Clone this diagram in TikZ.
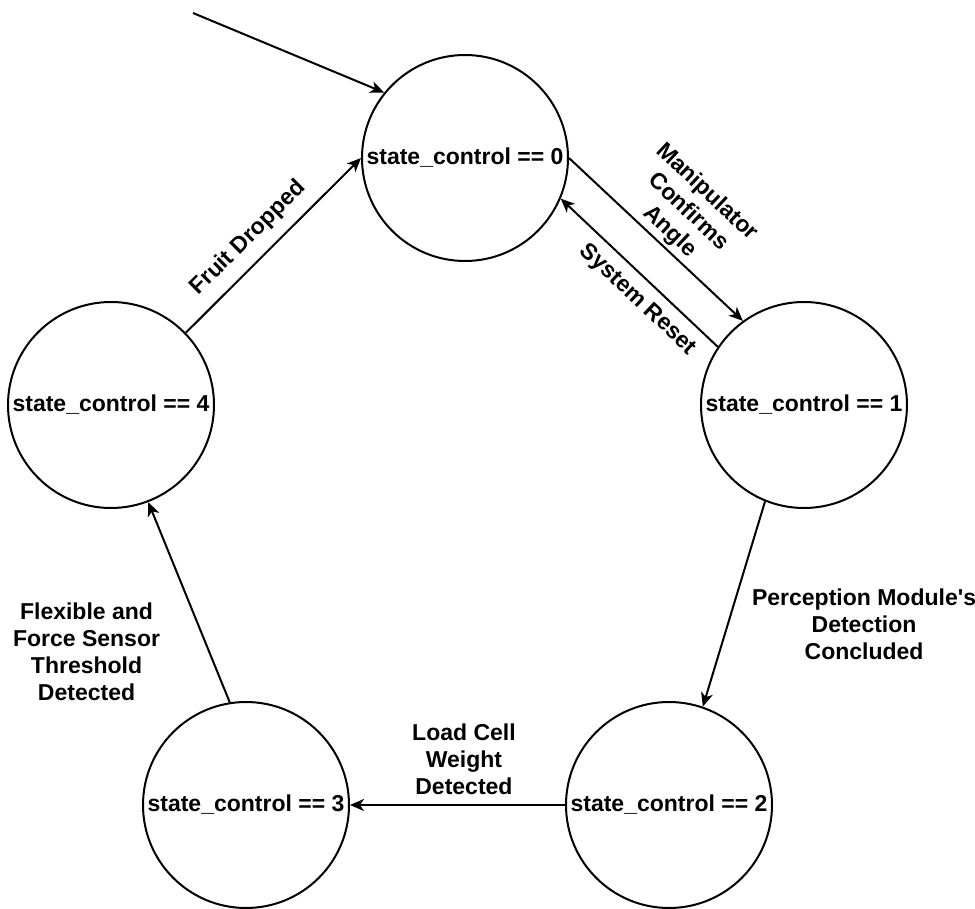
\documentclass[tikz,border=0pt]{standalone}
\usepackage{fontspec}
\setmainfont{Liberation Sans}
\usepackage{tikz}
\usetikzlibrary{arrows.meta,positioning,shapes}
\newcommand{\rstate}{206pt}
\newcommand{\lwidth}{2pt}
\newcommand{\lblfont}{\fontsize{23}{27}\selectfont\bfseries}

\begin{document}
\begin{tikzpicture}[x=1pt,y=-1pt,line width=\lwidth,font=\lblfont,
	StateStyle/.style={circle, draw, minimum size=\rstate, inner sep=0pt},
	EdgeStyle/.style={-{Stealth[length=14pt,width=12pt,inset=4pt]}}]
	
	\useasboundingbox (0,0) rectangle (975,909);
	%\draw[help lines] (0,0) grid (975,909);
	\node[StateStyle] (s0) at (465,158) {state\_control == 0};
	\node[StateStyle] (s1) at (804,405) {state\_control == 1};
	\node[StateStyle] (s2) at (669,805) {state\_control == 2};
	\node[StateStyle] (s3) at (246,805) {state\_control == 3};
	\node[StateStyle] (s4) at (111,405) {state\_control == 4};
	\coordinate (init) at (193,13);
	
	\draw[EdgeStyle] (init) -- (s0.141.6);
	\draw[EdgeStyle] (s0.0) -- node[sloped,above,align=center,pos=0.52]{Manipulator\\Confirms\\Angle} (s1.126);
	\draw[EdgeStyle] (s1.146.5) -- node[sloped,below=6pt,pos=0.42]{System Reset} (s0.337);
	\draw[EdgeStyle] (s1.248.7) -- node[right=20pt,align=center,pos=0.6]{Perception Module\textquotesingle s\\Detection\\Concluded} (s2.71.7);
	\draw[EdgeStyle] (s2) -- node[above=6pt,align=center,pos=0.47]{Load Cell\\Weight\\Detected} (s3);
	\draw[EdgeStyle] (s3.99) -- node[left=45pt,align=center,pos=0.25]{Flexible and\\Force Sensor\\Threshold\\Detected} (s4.291.7);
	\draw[EdgeStyle] (s4.44) -- node[sloped,above=8pt,pos=0.45]{Fruit Dropped} (s0.180);
	%\draw[EdgeStyle] (s0) -- (s2);
\end{tikzpicture}
\end{document}
